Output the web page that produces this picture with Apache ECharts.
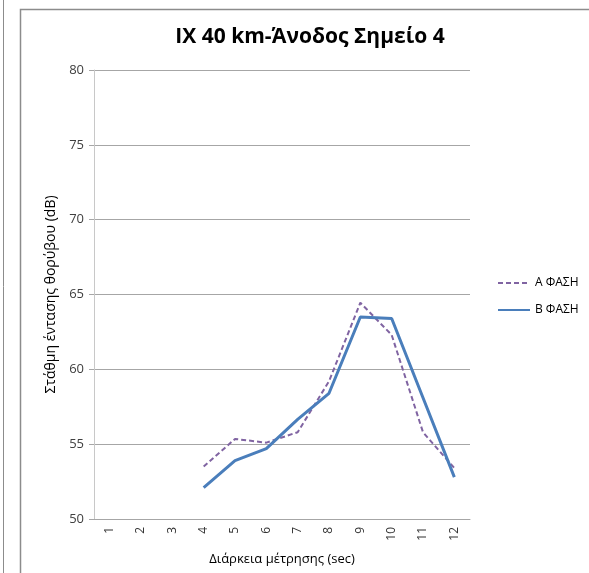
<!DOCTYPE html>
<html>
<head>
<meta charset="utf-8">
<script src="https://cdn.jsdelivr.net/npm/echarts@6/dist/echarts.min.js"></script>
<style>
  html, body { margin: 0; padding: 0; background: #fff; }
  #main { width: 589px; height: 573px; }
</style>
</head>
<body>
<div id="main"></div>
<script>
// διάρκεια μέτρησης (sec)
const categories = ["1", "2", "3", "4", "5", "6", "7", "8", "9", "10", "11", "12"];
// Α ΦΑΣΗ
const phaseA = [null, null, null, 53.5, 55.35, 55.1, 55.8, 59.2, 64.45, 62.3, 55.8, 53.4];
// Β ΦΑΣΗ
const phaseB = [null, null, null, 52.1, 53.9, 54.7, 56.65, 58.4, 63.5, 63.4, 58.1, 52.8];
const yTicks = { min: 50, max: 80, interval: 5 };

const chart = echarts.init(document.getElementById("main"));
const font = "'Open Sans', 'Noto Sans', sans-serif";
chart.setOption({
  animation: false,
  textStyle: { fontFamily: font },
  title: {
    text: "IX 40 km-Άνοδος Σημείο 4",
    left: 305,
    top: 22,
    textAlign: "center",
    textStyle: { fontSize: 21, fontWeight: "bold", color: "#000", fontFamily: font },
  },
  graphic: [
    { type: "line", shape: { x1: 3.5, y1: 0, x2: 3.5, y2: 573 }, style: { stroke: "#8c8c8c", lineWidth: 1 } },
    { type: "polyline", shape: { points: [[20.5, 573], [20.5, 9.5], [589, 9.5]] }, style: { stroke: "#8c8c8c", lineWidth: 1.5, fill: null } },
  ],
  legend: {
    orient: "vertical",
    left: 492,
    top: 272,
    itemWidth: 32,
    itemHeight: 10,
    itemGap: 15,
    itemStyle: { opacity: 0 },
    textStyle: { fontSize: 12, color: "#000", fontFamily: font },
    data: ["Α ΦΑΣΗ", "Β ΦΑΣΗ"],
  },
  grid: { left: 94, right: 119, top: 70, bottom: 54 },
  xAxis: {
    type: "category",
    data: categories,
    name: "Διάρκεια μέτρησης (sec)",
    nameLocation: "middle",
    nameGap: 34,
    nameMoveOverlap: false,
    nameTextStyle: { fontSize: 13, color: "#000" },
    axisLine: { lineStyle: { color: "#a6a6a6" } },
    axisTick: { length: 5, lineStyle: { color: "#a6a6a6" } },
    axisLabel: { rotate: 90, fontSize: 12, color: "#333", margin: 8 },
  },
  yAxis: {
    type: "value",
    min: yTicks.min,
    max: yTicks.max,
    interval: yTicks.interval,
    name: "Στάθμη έντασης θορύβου (dB)",
    nameLocation: "middle",
    nameGap: 36,
    nameMoveOverlap: false,
    nameTextStyle: { fontSize: 14, color: "#000" },
    axisLine: { show: true, lineStyle: { color: "#c8c8c8" } },
    axisTick: { show: true, length: 5, lineStyle: { color: "#a6a6a6" } },
    axisLabel: { fontSize: 13, color: "#404040", margin: 10 },
    splitLine: { lineStyle: { color: "#a6a6a6" } },
  },
  series: [
    {
      name: "Α ΦΑΣΗ",
      type: "line",
      data: phaseA,
      symbol: "none",
      lineStyle: { color: "#8064a2", width: 2, type: [5, 3] },
      itemStyle: { color: "#8064a2" },
    },
    {
      name: "Β ΦΑΣΗ",
      type: "line",
      data: phaseB,
      symbol: "none",
      lineStyle: { color: "#4a7ebb", width: 3 },
      itemStyle: { color: "#4a7ebb" },
    },
  ],
});
</script>
</body>
</html>
